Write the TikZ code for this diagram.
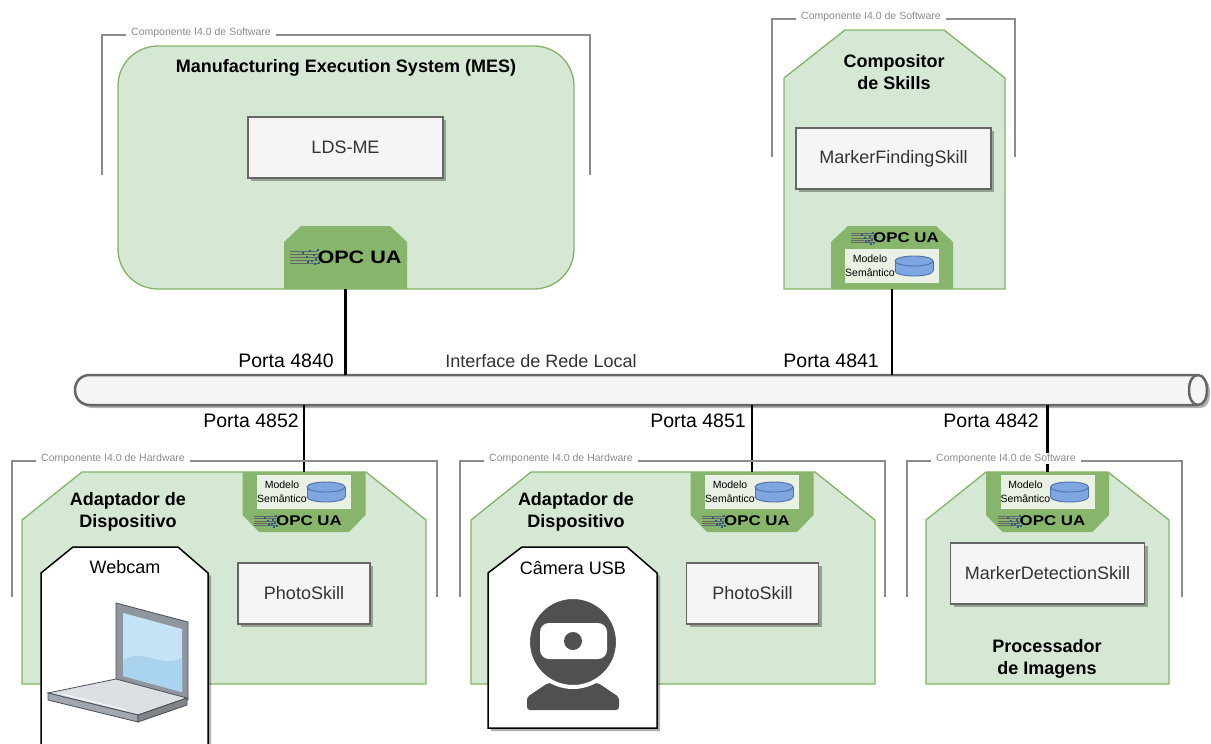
\documentclass[tikz,border=0pt]{standalone}
\usepackage{fontspec}
\setmainfont{Liberation Sans}
\usetikzlibrary{shadows}

\definecolor{groupfill}{HTML}{D5E8D4}
\definecolor{groupline}{HTML}{82B366}
\definecolor{tabfill}{HTML}{86B56B}
\definecolor{boxfill}{HTML}{F5F5F5}
\definecolor{boxline}{HTML}{666666}
\definecolor{boxtext}{HTML}{333333}
\definecolor{framegray}{HTML}{8C8C8C}
\definecolor{modelfill}{HTML}{E9F0E4}
\definecolor{dbfill}{HTML}{7EA6E0}
\definecolor{dbline}{HTML}{4F72A8}
\definecolor{opcblue}{HTML}{2F5D8A}
\definecolor{camgray}{HTML}{505050}
\definecolor{lapframe}{HTML}{8F969E}
\definecolor{lapdark}{HTML}{4A5057}
\definecolor{lapscreen}{HTML}{C4E3F6}
\definecolor{lapscreentwo}{HTML}{A9D3EE}
\definecolor{lapbase}{HTML}{DCE0E4}
\definecolor{lapedge}{HTML}{A0A7AE}

% OPC UA logo: name, x, y, scale
\newcommand{\opcua}[4]{%
  \begin{scope}[shift={(#2,#3)}, scale=#4]
    \foreach \yy in {-6,-3,0,3,6}
      \draw[black!60, line width=0.6] (-70,\yy) -- (-42,\yy);
    \foreach \xx/\yy in {-58/-5,-54/-1,-51/-7,-49/3,-47/-3,-45/1,-43/-8,-42/5,-40/-2,-39/2,-53/4,-46/6}
      \fill[opcblue] (\xx,\yy) rectangle ++(2.4,2.4);
    \node (#1) [transform shape, xscale=1.2, inner sep=0,
      font=\bfseries\fontsize{18}{18}\selectfont] at (0,0) {OPC UA};
  \end{scope}}

% semantic model box with database: name, x, y
\newcommand{\modelo}[3]{%
  \node (#1) [modelbox] at (#2,#3) {};
  \node (#1-txt) [modeltext] at ([xshift=-22pt]#1.center) {Modelo\\Semântico};
  \begin{scope}[shift={(#2+22,#3)}]
    \filldraw[fill=dbfill, draw=dbline, line width=0.9] (0,5) ellipse (19 and 5);
    \fill[dbfill] (-19,-5) rectangle (19,5);
    \draw[dbline, line width=0.9] (-19,-5) -- (-19,5) (19,-5) -- (19,5);
    \filldraw[fill=dbfill, draw=dbline, line width=0.9] (0,-5) ellipse (19 and 5);
  \end{scope}}

\begin{document}
\begin{tikzpicture}[x=1pt, y=-1pt,
  group/.style={fill=groupfill, draw=groupline, line width=1.3},
  tab/.style={fill=tabfill},
  shadowed/.style={drop shadow={shadow xshift=3pt, shadow yshift=-3pt, fill=black, opacity=0.3}},
  skill/.style={rectangle, draw=boxline, fill=boxfill, line width=1.5, text=boxtext,
    font=\fontsize{18}{20}\selectfont, minimum height=61, inner sep=0, shadowed},
  heading/.style={font=\bfseries\fontsize{18}{22}\selectfont, align=center, inner sep=0},
  plain/.style={font=\fontsize{18}{20}\selectfont, inner sep=0},
  porta/.style={font=\fontsize{19.5}{21}\selectfont, inner sep=0, anchor=east},
  link/.style={line width=2.6},
  frameline/.style={draw=framegray, line width=1.6},
  framelabel/.style={fill=white, text=framegray, font=\fontsize{10.5}{12}\selectfont,
    inner xsep=5, inner ysep=1, anchor=west},
  modelbox/.style={fill=modelfill, minimum width=94, minimum height=34, inner sep=0},
  modeltext/.style={align=center, font=\fontsize{10.5}{14}\selectfont, inner sep=0},
  device/.style={fill=white, draw=black, line width=1.5}]

\useasboundingbox (0,0) rectangle (1211,744);

% MES
\draw[group, rounded corners=40] (118,46) rectangle (574,289);
\node (mes) [heading] at (346,68) {Manufacturing Execution System (MES)};
\node (ldsme) [skill, minimum width=195] at (345.5,147.5) {LDS-ME};
\fill[tab] (284,289) -- (284,242) -- (301,226) -- (390,226) -- (407,242) -- (407,289) -- cycle;
\opcua{mes-opc}{359.5}{257}{1}
\coordinate (mes-port) at (345.5,289);

% skill composer
\draw[group] (784,289) -- (784,78) -- (845,30) -- (944,30) -- (1005,78) -- (1005,289) -- cycle;
\node (comp) [heading] at (894,72) {Compositor\\de Skills};
\node (mfs) [skill, minimum width=195] at (893.5,158.5) {MarkerFindingSkill};
\fill[tab] (831,289) -- (831,242) -- (848,226) -- (936,226) -- (953,242) -- (953,289) -- cycle;
\opcua{comp-opc}{906}{238}{0.78}
\modelo{comp-model}{892}{266}
\coordinate (comp-port) at (892,289);

% device adapters and image processor
\draw[group] (22,684) -- (22,520) -- (82,472) -- (366,472) -- (426,520) -- (426,684) -- cycle;
\draw[group] (471,684) -- (471,520) -- (531,472) -- (815,472) -- (875,520) -- (875,684) -- cycle;
\draw[group] (926,684) -- (926,520) -- (986,472) -- (1108,472) -- (1169,520) -- (1169,684) -- cycle;

\node (adl) [heading] at (128,512) {Adaptador de\\Dispositivo};
\node (adm) [heading] at (576,512) {Adaptador de\\Dispositivo};
\node (proc) [heading] at (1047,659) {Processador\\de Imagens};

\node (photo-l) [skill, minimum width=132] at (304,593.5) {PhotoSkill};
\node (photo-m) [skill, minimum width=132] at (752.5,593.5) {PhotoSkill};
\node (mds) [skill, minimum width=194] at (1047.5,573.5) {MarkerDetectionSkill};

\foreach \c/\nm in {304/adl, 752/adm, 1047.5/proc}{
  \fill[tab] (\c-61.5,472) -- (\c+61.5,472) -- (\c+61.5,515) -- (\c+45,532)
    -- (\c-45,532) -- (\c-61.5,515) -- cycle;
  \modelo{\nm-model}{\c}{492}
  \opcua{\nm-opc}{\c+5}{521}{0.78}
  \coordinate (\nm-port) at (\c,472);
}

% webcam
\path[fill=white, shadowed] (41,744) -- (41,573) -- (73,547) -- (178,547) -- (208,573) -- (208,744) -- cycle;
\draw[device, fill=none] (41,744) -- (41,573) -- (73,547) -- (178,547) -- (208,573) -- (208,744);
\node (webcam) [plain] at (125,567) {Webcam};
\filldraw[fill=lapframe, draw=lapdark, line width=0.8] (116,603) -- (188,622) -- (188,700) -- (116,681) -- cycle;
\fill[lapscreen] (123,613) -- (182,629) -- (182,692) -- (123,676) -- cycle;
\fill[lapscreentwo] (123,660) .. controls (142,648) and (160,668) .. (182,658) -- (182,692) -- (123,676) -- cycle;
\filldraw[fill=lapbase, draw=lapdark, line width=0.8] (48,693) -- (116,679) -- (187,698) -- (138,715) -- cycle;
\filldraw[fill=lapedge, draw=lapdark, line width=0.8] (48,693) -- (138,715) -- (138,722) -- (48,700) -- cycle;
\filldraw[fill=lapdark!70, draw=lapdark, line width=0.8] (138,715) -- (187,698) -- (187,705) -- (138,722) -- cycle;
\draw[white, line width=0.8] (62,694) -- (126,710);

% usb camera
\draw[device, shadowed] (488,728) -- (488,573) -- (522,547) -- (627,547) -- (657,573) -- (657,728) -- cycle;
\node (usbcam) [plain] at (573,568) {Câmera USB};
\fill[camgray, rounded corners=3] (527,710) -- (527,697) -- (548,683) -- (598,683) -- (619,697) -- (619,710) -- cycle;
\filldraw[fill=camgray, draw=white, line width=4] (573,642) circle (45);
\fill[white, rounded corners=9] (540,623) rectangle (607,659);
\fill[camgray] (573,641) circle (9);

% local network
\node (lan) [minimum width=1133, minimum height=30, inner sep=0] at (641.5,390) {};
\path[fill=boxfill, shadowed] (90,375) -- (1198,375) .. controls (1210,375) and (1210,405) .. (1198,405)
  -- (90,405) .. controls (70,405) and (70,375) .. (90,375) -- cycle;
\draw[boxline, line width=2.5] (90,375) -- (1198,375) .. controls (1210,375) and (1210,405) .. (1198,405)
  -- (90,405) .. controls (70,405) and (70,375) .. (90,375) -- cycle;
\draw[boxline, line width=2.5] (1198,375) .. controls (1186,375) and (1186,405) .. (1198,405);

\path
  (mes-port) edge[link] (mes-port |- lan.north)
  (comp-port) edge[link] (comp-port |- lan.north)
  (adl-port) edge[link] (adl-port |- lan.south)
  (adm-port) edge[link] (adm-port |- lan.south)
  (proc-port) edge[link] (proc-port |- lan.south);

\node (l4840) [porta] at (334,361) {Porta 4840};
\node (l4841) [porta] at (879,361) {Porta 4841};
\node (lanlabel) [plain, text=boxtext] at (541,361) {Interface de Rede Local};
\node (l4852) [porta] at (299,421) {Porta 4852};
\node (l4851) [porta] at (746,421) {Porta 4851};
\node (l4842) [porta] at (1039,421) {Porta 4842};

% I4.0 component frames
\foreach \xa/\xb/\ya/\yb/\kind/\nm in {102/590/35/175/Software/mes, 772/1015/19/157/Software/comp,
    12/437/461/597/Hardware/adl, 460/885/461/597/Hardware/adm, 907/1182/461/597/Software/proc}{
  \draw[frameline] (\xa,\yb) -- (\xa,\ya) -- (\xb,\ya) -- (\xb,\yb);
  \node (\nm-frame) [framelabel] at (\xa+24,\ya-2.5) {Componente I4.0 de \kind};
}

\end{tikzpicture}
\end{document}
